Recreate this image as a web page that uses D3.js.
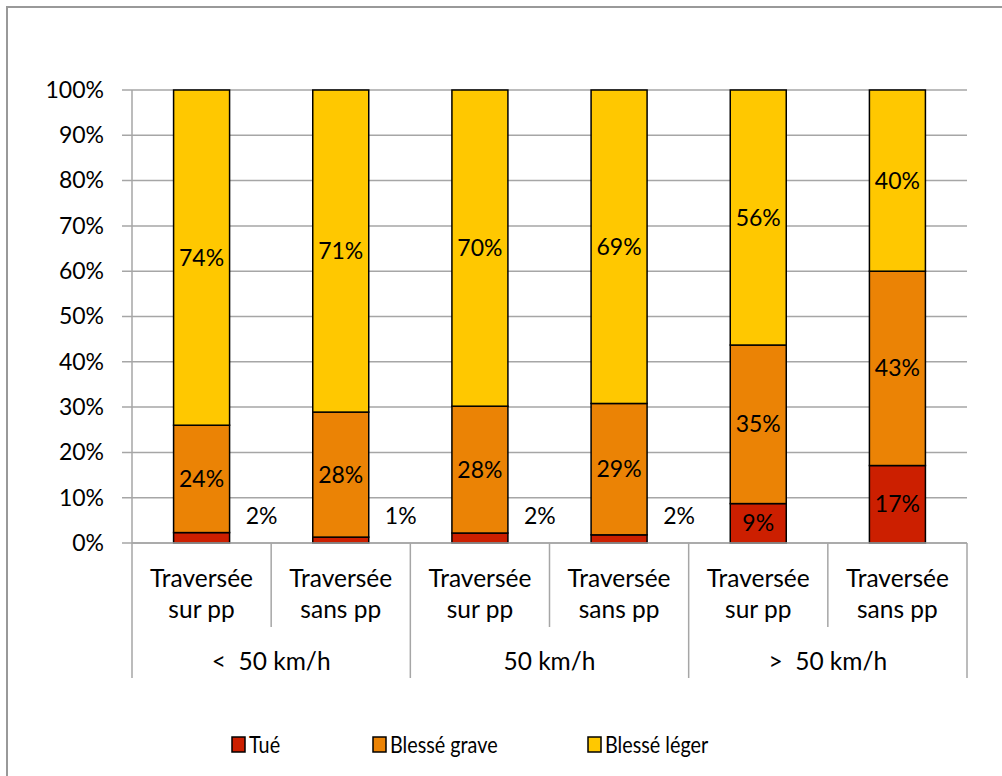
<!DOCTYPE html>
<html>
<head>
<meta charset="utf-8">
<script src="https://cdn.jsdelivr.net/npm/d3@7"></script>
<style>
  body { margin: 0; background: #fff; }
  svg { display: block; font-family: Lato, "Open Sans", sans-serif; }
</style>
</head>
<body>
<div id="chart"></div>
<script>
const categories = ["Traversée sur pp", "Traversée sans pp", "Traversée sur pp", "Traversée sans pp", "Traversée sur pp", "Traversée sans pp"];
const groups = ["<  50 km/h", "50 km/h", ">  50 km/h"];
const series = ["Tué", "Blessé grave", "Blessé léger"];
const tue = [2.3, 1.3, 2.2, 1.8, 8.7, 17.1];
const grave = [23.7, 27.6, 28.0, 29.0, 35.0, 42.9];
const leger = [74.0, 71.1, 69.8, 69.2, 56.3, 40.0];
const yTicks = [0, 10, 20, 30, 40, 50, 60, 70, 80, 90, 100];

const width = 1002, height = 776;
const margin = { top: 90, right: 35, bottom: 233, left: 132 };
const colors = ["#cc1f00", "#eb8305", "#ffc800"];
const fontSize = "23px";
const catFontSize = "24.5px";

const svg = d3.select("#chart").append("svg")
    .attr("width", width)
    .attr("height", height);

// chart frame
svg.append("rect")
    .attr("x", 7).attr("y", 7)
    .attr("width", width + 20).attr("height", height + 20)
    .attr("fill", "none").attr("stroke", "#999").attr("stroke-width", 2);

const innerW = width - margin.left - margin.right;
const innerH = height - margin.top - margin.bottom;
const g = svg.append("g").attr("transform", "translate(" + margin.left + "," + margin.top + ")");

const x = d3.scaleBand().domain(d3.range(categories.length)).range([0, innerW]);
const y = d3.scaleLinear().domain([0, 100]).range([innerH, 0]);

// gridlines
g.selectAll(".grid").data(yTicks).enter().append("line")
    .attr("x1", -10).attr("x2", innerW)
    .attr("y1", d => y(d)).attr("y2", d => y(d))
    .attr("stroke", "#a6a6a6").attr("stroke-width", 1.5);

// y axis
const yAxis = g.append("g")
    .call(d3.axisLeft(y).tickValues(yTicks).tickSize(0).tickPadding(28).tickFormat(d => d + "%"));
yAxis.select(".domain").remove();
yAxis.selectAll("text").style("font-size", fontSize).style("font-family", "Lato").attr("fill", "#000");
g.append("line").attr("x1", 0).attr("x2", 0).attr("y1", 0).attr("y2", innerH)
    .attr("stroke", "#a6a6a6").attr("stroke-width", 1.5);

// stacked bars
const table = categories.map((c, i) => ({ i, "Tué": tue[i], "Blessé grave": grave[i], "Blessé léger": leger[i] }));
const stack = d3.stack().keys(series)(table);
const barW = 56;
stack.forEach((layer, si) => {
    g.selectAll(".bar" + si).data(layer).enter().append("rect")
        .attr("x", d => x(d.data.i) + (x.bandwidth() - barW) / 2)
        .attr("width", barW)
        .attr("y", d => y(d[1]))
        .attr("height", d => y(d[0]) - y(d[1]))
        .attr("fill", colors[si])
        .attr("stroke", "#000").attr("stroke-width", 1.5);
});

// data labels (small "Tué" values sit beside the bar)
stack.forEach((layer, si) => {
    g.selectAll(".lab" + si).data(layer).enter().append("text")
        .attr("x", d => {
            const cx = x(d.data.i) + x.bandwidth() / 2;
            return (si === 0 && d.data.i < 4) ? cx + 60 : cx;
        })
        .attr("y", d => (si === 0 && d.data.i < 4) ? y(6) : y((d[0] + d[1]) / 2))
        .attr("dy", "0.35em")
        .attr("text-anchor", "middle")
        .style("font-size", fontSize)
        .text(d => Math.round(d[1] - d[0]) + "%");
});

// category axis with vertical separators
const sepShort = 84, sepLong = 135;
d3.range(categories.length + 1).forEach(i => {
    const xx = i < categories.length ? x(i) : innerW;
    g.append("line").attr("x1", xx).attr("x2", xx)
        .attr("y1", innerH).attr("y2", innerH + (i % 2 === 0 ? sepLong : sepShort))
        .attr("stroke", "#a6a6a6").attr("stroke-width", 1.5);
});
g.append("line").attr("x1", 0).attr("x2", innerW).attr("y1", innerH).attr("y2", innerH)
    .attr("stroke", "#a6a6a6").attr("stroke-width", 1.5);

categories.forEach((c, i) => {
    const words = c.split(" ");
    const cx = x(i) + x.bandwidth() / 2;
    const t = g.append("text")
        .attr("y", innerH + 44)
        .attr("text-anchor", "middle")
        .style("font-size", catFontSize);
    t.append("tspan").attr("x", cx).text(words[0]);
    t.append("tspan").attr("x", cx).attr("dy", 31).text(words.slice(1).join(" "));
});

groups.forEach((gr, j) => {
    g.append("text")
        .attr("x", x(j * 2) + x.bandwidth())
        .attr("y", innerH + 127)
        .attr("text-anchor", "middle")
        .style("white-space", "pre")
        .style("font-size", catFontSize)
        .text(gr);
});

// legend (text is slightly condensed, as in the original)
const legendX = [232, 373, 588];
const legend = svg.append("g").attr("transform", "translate(0,753)");
series.forEach((s, i) => {
    legend.append("rect")
        .attr("x", legendX[i]).attr("y", -16)
        .attr("width", 13).attr("height", 15)
        .attr("fill", colors[i]).attr("stroke", "#000").attr("stroke-width", 1.5);
    legend.append("text")
        .attr("transform", "translate(" + (legendX[i] + 17) + ",0) scale(0.86,1)")
        .style("font-size", fontSize)
        .text(s);
});
</script>
</body>
</html>
